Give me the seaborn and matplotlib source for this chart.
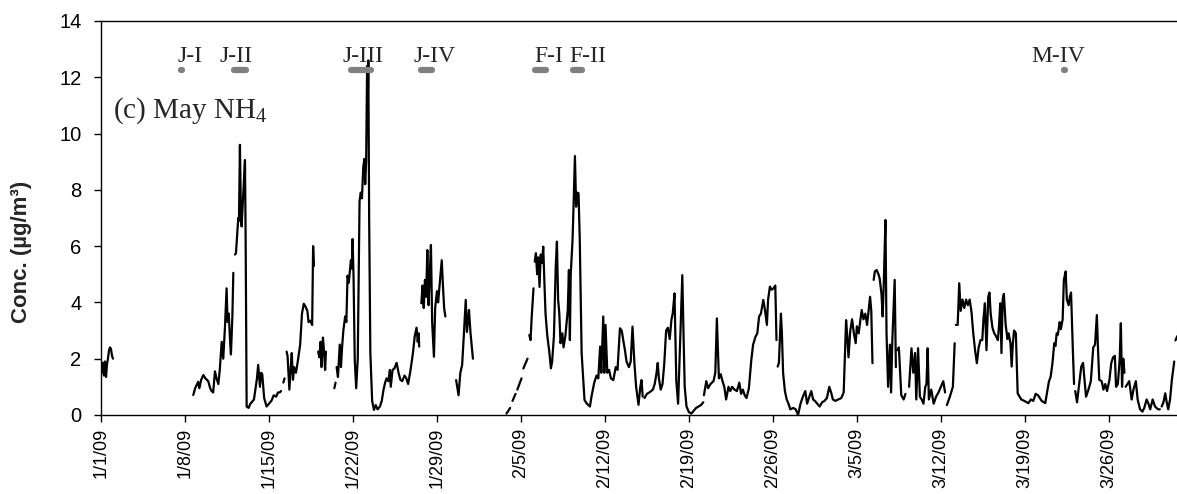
import numpy as np
import pandas as pd
import matplotlib
matplotlib.use("Agg")
import matplotlib.pyplot as plt
import seaborn as sns

nan = np.nan

# (day since 1/1/09, NH4 conc); nan rows = breaks in the record
jan = np.array([
    (0.0, 1.9), (0.08, 1.5), (0.15, 1.85), (0.25, 1.4), (0.33, 1.9), (0.42, 1.35), (0.5, 1.8),
    (0.58, 2.0), (0.67, 2.3), (0.75, 2.4), (0.83, 2.35), (0.92, 2.1), (1.0, 2.0), (1.1, nan),
    (7.69, 0.71), (7.85, 0.95), (8.1, 1.18), (8.2, 0.95), (8.35, 1.25), (8.53, 1.42), (8.7, 1.3),
    (8.94, 1.2), (9.1, 0.95), (9.22, 0.85), (9.35, 0.8), (9.5, 1.55), (9.6, 1.35), (9.78, 1.1),
    (9.9, 1.6), (10.06, 2.6), (10.19, 2.0), (10.33, 3.1), (10.47, 4.5), (10.55, 3.3), (10.65, 3.6),
    (10.75, 2.7), (10.83, 2.15), (10.95, 3.5), (11.03, 5.05), (11.1, nan),
    (11.17, 5.7), (11.25, 5.75), (11.35, 6.4), (11.44, 7.0), (11.5, 6.9), (11.58, 9.6), (11.65, 7.5),
    (11.72, 6.7), (11.85, 7.8), (12.0, 9.06), (12.06, 6.0), (12.14, 0.3), (12.3, 0.25), (12.45, 0.4),
    (12.56, 0.45), (12.75, 0.55), (12.9, 1.0), (13.0, 1.3), (13.1, 1.78), (13.25, 1.0), (13.35, 1.5),
    (13.44, 1.45), (13.6, 0.6), (13.8, 0.3), (14.0, 0.4), (14.2, 0.5), (14.4, 0.7), (14.6, 0.65),
    (14.75, 0.8), (14.9, 0.8), (15.0, 0.85), (15.1, nan),
    (15.2, 1.15), (15.3, 1.3), (15.4, nan),
    (15.47, 2.25), (15.55, 2.1), (15.7, 0.9), (15.8, 1.6), (15.9, 2.2), (16.0, 1.25), (16.1, 1.7),
    (16.25, 1.5), (16.4, 1.9), (16.6, 2.5), (16.75, 3.6), (16.9, 3.95), (17.05, 3.85), (17.2, 3.7),
    (17.3, 3.3), (17.45, 3.35), (17.6, 3.2), (17.68, 6.0), (17.75, 5.3), (17.9, nan),
    (18.1, 2.25), (18.2, 2.05), (18.3, 2.6), (18.38, 1.7), (18.5, 2.75), (18.6, 2.2), (18.68, 1.6),
    (18.75, 2.25), (19.0, nan),
    (19.45, 0.95), (19.55, 1.15), (19.6, nan),
    (19.64, 1.7), (19.75, 1.35), (19.9, 2.5), (20.0, 1.7), (20.1, 2.45), (20.2, 3.0), (20.35, 3.5),
    (20.45, 3.3), (20.55, 4.95), (20.65, 4.7), (20.83, 5.5), (20.9, 5.2), (20.97, 6.25), (21.05, 4.9),
    (21.15, 1.95), (21.27, 0.95), (21.4, 2.0), (21.55, 7.6), (21.65, 7.9), (21.75, 7.7), (21.86, 8.8),
    (21.95, 9.1), (22.02, 8.2), (22.1, 9.0), (22.18, 12.4), (22.22, 10.6), (22.28, 12.6), (22.35, 7.0),
    (22.45, 2.2), (22.6, 0.5), (22.75, 0.18), (22.9, 0.35), (23.05, 0.2), (23.25, 0.3), (23.4, 0.5),
    (23.55, 0.9), (23.67, 1.13), (23.8, 1.3), (23.95, 1.2), (24.08, 1.6), (24.15, 1.0), (24.3, 1.6),
    (24.45, 1.65), (24.64, 1.85), (24.8, 1.5), (24.95, 1.25), (25.1, 1.2), (25.3, 1.4), (25.45, 1.3),
    (25.6, 1.1), (25.8, 1.6), (26.0, 2.2), (26.15, 2.8), (26.3, 3.1), (26.4, 2.6), (26.48, 2.9),
    (26.52, 2.43), (26.6, nan),
    (26.7, 3.97), (26.8, 4.6), (26.9, 3.8), (27.0, 4.8), (27.1, 4.2), (27.2, 5.86), (27.3, 3.9),
    (27.4, 5.0), (27.5, 6.04), (27.6, 3.3), (27.75, 2.07), (27.85, 3.8), (28.0, 4.4), (28.1, 4.0),
    (28.2, 4.5), (28.4, 5.5), (28.5, 4.6), (28.6, 3.8), (28.7, 3.5), (29.0, nan),
    (29.6, 1.24), (29.8, 0.7), (29.95, 1.5), (30.1, 1.78), (30.25, 2.9), (30.4, 4.09), (30.5, 2.95),
    (30.67, 3.73), (30.8, 2.9), (31.0, 2.0), (31.2, nan),
])

feb = np.array([
    (33.8, 0.05), (34.1, 0.25), (34.2, nan),
    (34.3, 0.5), (34.55, 0.75), (34.62, nan),
    (34.7, 0.9), (35.05, 1.3), (35.12, nan),
    (35.2, 1.65), (35.55, 2.0), (35.62, nan),
    (35.7, 2.84), (35.8, 2.66), (35.9, 3.5), (36.05, 4.5), (36.1, nan),
    (36.15, 5.45), (36.25, 5.75), (36.35, 5.0), (36.45, 5.6), (36.55, 4.55), (36.65, 5.7),
    (36.75, 5.4), (36.86, 5.98), (36.95, 4.8), (37.05, 3.6), (37.2, 2.8), (37.35, 2.3), (37.5, 1.66),
    (37.6, 1.9), (37.75, 2.8), (37.9, 5.27), (38.0, 6.16), (38.1, 4.1), (38.2, 3.6), (38.3, 2.55),
    (38.45, 2.9), (38.55, 2.4), (38.7, 2.8), (38.9, 3.7), (39.0, 5.15), (39.08, 2.66), (39.15, 5.0),
    (39.3, 6.2), (39.4, 7.64), (39.5, 9.2), (39.6, 7.4), (39.7, 7.9), (39.8, 7.88), (39.9, 6.3),
    (40.06, 2.19), (40.3, 0.53), (40.5, 0.4), (40.75, 0.3), (40.9, 0.7), (41.1, 1.13), (41.3, 1.4),
    (41.45, 1.3), (41.6, 2.43), (41.7, 1.5), (41.86, 3.5), (41.95, 1.5), (42.05, 3.2), (42.2, 1.5),
    (42.35, 1.6), (42.5, 1.3), (42.7, 1.24), (42.9, 1.7), (43.05, 1.6), (43.25, 3.08), (43.4, 3.0),
    (43.55, 2.6), (43.67, 2.3), (43.8, 1.9), (44.0, 1.7), (44.15, 1.9), (44.3, 3.14), (44.45, 1.9),
    (44.6, 1.0), (44.8, 0.36), (44.95, 1.0), (45.05, 1.24), (45.15, 0.65), (45.2, nan),
    (45.3, 0.6), (45.5, 0.75), (45.7, 0.8), (45.85, 0.85), (46.0, 0.9), (46.15, 1.1), (46.3, 1.48),
    (46.4, 1.85), (46.5, 1.3), (46.65, 0.9), (46.8, 1.1), (46.95, 1.85), (47.1, 3.0), (47.25, 3.1),
    (47.4, 2.7), (47.55, 3.4), (47.65, 3.6), (47.8, 4.32), (47.95, 1.2), (48.1, 0.4), (48.3, 3.0),
    (48.45, 4.97), (48.55, 2.9), (48.65, 1.0), (48.8, 0.3), (49.0, 0.1), (49.2, 0.05), (49.4, 0.15),
    (49.6, 0.25), (49.8, 0.3), (50.0, 0.35), (50.2, 0.45), (50.22, nan),
    (50.25, 0.7), (50.45, 1.2), (50.6, 0.95), (50.8, 1.1), (51.05, 1.2), (51.2, 1.5), (51.33, 3.43),
    (51.5, 1.3), (51.65, 1.45), (51.8, 1.2), (51.95, 1.0), (52.1, 0.55), (52.3, 1.0), (52.45, 0.85),
    (52.6, 1.0), (52.8, 0.9), (53.0, 0.85), (53.2, 1.15), (53.35, 0.75), (53.5, 0.9), (53.65, 0.7),
    (53.8, 0.6), (54.0, 0.95), (54.2, 1.95), (54.35, 2.5), (54.55, 2.78), (54.7, 2.9), (54.85, 3.5),
    (55.0, 3.6), (55.2, 4.09), (55.35, 3.7), (55.5, 3.2), (55.6, 4.1), (55.75, 4.56), (55.9, 4.45),
    (56.05, 4.5), (56.2, 4.6), (56.3, 2.66), (56.35, nan),
    (56.4, 1.72), (56.5, 1.85), (56.67, 3.6), (56.75, 2.9), (56.85, 1.5), (57.0, 0.85), (57.15, 0.55),
    (57.3, 0.4), (57.45, 0.2), (57.7, 0.25), (57.9, 0.2), (58.1, 0.0), (58.3, 0.4), (58.5, 0.65),
    (58.7, 0.85), (58.85, 0.4),
])

mar = np.array([
    (59.0, 0.6), (59.2, 0.85), (59.35, 0.55), (59.5, 0.5), (59.7, 0.4), (59.9, 0.3), (60.1, 0.45),
    (60.3, 0.5), (60.5, 0.6), (60.7, 1.0), (60.85, 0.8), (61.0, 0.55), (61.2, 0.5), (61.45, 0.55),
    (61.7, 0.6), (61.9, 0.8), (62.1, 3.37), (62.2, 2.8), (62.3, 2.05), (62.45, 3.0), (62.6, 3.4),
    (62.75, 2.9), (62.9, 2.55), (63.0, 3.15), (63.15, 2.9), (63.4, 3.73), (63.55, 3.4), (63.7, 3.6),
    (63.85, 3.2), (64.1, 4.2), (64.2, 3.7), (64.3, 1.84), (64.35, nan),
    (64.4, 4.8), (64.5, 5.1), (64.65, 5.15), (64.8, 5.0), (64.9, 4.85), (65.05, 4.3), (65.15, 3.5),
    (65.25, 4.8), (65.38, 6.93), (65.47, 2.9), (65.6, 1.0), (65.75, 2.5), (65.85, 0.8), (65.95, 2.6),
    (66.15, 4.8), (66.25, 1.7), (66.3, nan),
    (66.35, 2.3), (66.5, 2.4), (66.7, 0.7), (66.9, 0.55), (67.05, 0.75), (67.2, nan),
    (67.35, 1.0), (67.55, 2.37), (67.7, 1.5), (67.85, 2.2), (67.95, 0.55), (68.1, 2.37), (68.25, 0.65),
    (68.4, 0.55), (68.55, 0.4), (68.7, 1.0), (68.8, 1.1), (68.9, 2.37), (69.0, 0.55), (69.2, 0.9),
    (69.4, 0.4), (69.6, 0.65), (69.8, 0.8), (70.0, 1.0), (70.2, 1.2), (70.35, 0.8), (70.42, nan),
    (70.5, 0.35), (70.75, 0.65), (71.0, 1.0), (71.15, 2.55), (71.2, nan),
    (71.25, 3.2), (71.4, 3.2), (71.53, 4.68), (71.65, 3.7), (71.8, 4.1), (71.95, 3.8), (72.1, 4.1),
    (72.25, 3.9), (72.4, 4.1), (72.55, 3.67), (72.7, 2.9), (72.85, 2.3), (73.0, 1.84), (73.15, 2.4),
    (73.3, 2.66), (73.45, 2.66), (73.55, 3.4), (73.67, 3.97), (73.8, 2.3), (73.95, 4.2), (74.05, 4.35),
    (74.15, 3.6), (74.3, 3.1), (74.45, 2.9), (74.6, 2.8), (74.75, 2.66), (74.85, 3.2), (74.95, 3.97),
    (75.05, 2.2), (75.15, 4.1), (75.25, 4.3), (75.4, 3.2), (75.55, 2.7), (75.65, 2.9), (75.8, 2.55),
    (75.9, 1.72), (76.0, 2.55), (76.1, 3.0), (76.25, 2.9), (76.4, 0.77), (76.7, 0.55), (76.95, 0.5),
    (77.3, 0.42), (77.5, 0.55), (77.7, 0.5), (77.9, 0.75), (78.1, 0.7), (78.4, 0.5), (78.7, 0.42),
    (79.0, 1.18), (79.15, 1.36), (79.3, 1.84), (79.45, 2.55), (79.55, 2.45), (79.65, 2.9),
    (79.75, 2.85), (79.9, 3.3), (80.0, 3.05), (80.15, 3.4), (80.25, 4.8), (80.4, 5.1), (80.5, 4.1),
    (80.65, 3.9), (80.75, 4.2), (80.85, 4.35), (81.0, 2.3), (81.1, 1.1), (81.15, nan),
    (81.2, 0.85), (81.35, 0.45), (81.5, 1.0), (81.7, 1.72), (81.85, 1.85), (81.95, 1.35), (82.1, 0.65),
    (82.3, 0.9), (82.5, 1.2), (82.7, 2.4), (82.85, 2.5), (83.0, 3.55), (83.1, 2.3), (83.2, 1.25),
    (83.4, 1.2), (83.55, 0.9), (83.7, 1.1), (83.85, 0.85), (84.05, 1.25), (84.2, 1.84), (84.35, 2.05),
    (84.5, 2.1), (84.6, 1.0), (84.75, 1.1), (84.9, 1.95), (85.0, 3.26), (85.1, 1.0), (85.2, 2.0),
    (85.3, 1.5), (85.35, nan),
    (85.4, 1.0), (85.55, 1.1), (85.7, 1.2), (85.9, 0.55), (86.05, 0.9), (86.25, 1.2), (86.4, 0.55),
    (86.6, 0.2), (86.8, 0.12), (86.95, 0.25), (87.15, 0.55), (87.3, 0.4), (87.45, 0.2), (87.65, 0.55),
    (87.85, 0.3), (88.1, 0.2), (88.25, 0.2), (88.32, nan),
    (88.4, 0.3), (88.55, 0.45), (88.7, 0.77), (88.8, 0.5), (88.95, 0.2), (89.1, 0.55), (89.25, 1.24),
    (89.45, 1.9), (89.5, nan),
    (89.55, 2.65), (89.7, 2.8),
])

# episodes marked above the series
event_names = ["J-I", "J-II", "J-III", "J-IV", "F-I", "F-II", "M-IV"]
event_start = [6.68, 11.1, 20.8, 26.7, 36.2, 39.3, 80.25]
event_end = [6.76, 12.1, 22.5, 27.6, 37.1, 40.1, 80.33]
event_label_day = [7.42, 11.25, 21.83, 27.83, 37.33, 40.58, 79.75]

tick_days = [0, 7, 14, 21, 28, 35, 42, 49, 56, 63, 70, 77, 84]
tick_labels = ["1/1/09", "1/8/09", "1/15/09", "1/22/09", "1/29/09", "2/5/09", "2/12/09",
               "2/19/09", "2/26/09", "3/5/09", "3/12/09", "3/19/09", "3/26/09"]

rec = np.vstack([jan, feb, mar])
df = pd.DataFrame(rec, columns=["day", "conc"])
df["seg"] = np.cumsum(df["conc"].isna())
df = df.dropna()

sns.set_style("ticks")
plt.rcParams["font.family"] = ["Liberation Sans", "DejaVu Sans"]
plt.rcParams["mathtext.fontset"] = "custom"
plt.rcParams["mathtext.rm"] = "Liberation Serif"
plt.rcParams["mathtext.it"] = "Liberation Serif:italic"

fig = plt.figure(figsize=(11.77, 4.94), dpi=100)
ax = fig.add_axes([0.0858, 0.16, 0.9142, 0.7975])

sns.lineplot(data=df, x="day", y="conc", units="seg", estimator=None, sort=False,
             color="black", lw=1.6, ax=ax)

for name, s, e, lx in zip(event_names, event_start, event_end, event_label_day):
    ax.plot([s, e], [12.25, 12.25], color="#808080", lw=4.5, solid_capstyle="round")
    ax.text(lx, 12.55, name, ha="center", va="baseline", fontsize=17,
            family=["Liberation Serif", "DejaVu Serif"])

ax.text(1.0, 10.55, "(c) May NH$_4$", fontsize=21, va="baseline",
        family=["Liberation Serif", "DejaVu Serif"])

ax.set_xlim(0, 89.68)
ax.set_ylim(0, 14)
ax.set_yticks(range(0, 15, 2))
ax.set_xticks(tick_days)
ax.set_xticklabels(tick_labels, rotation=90)
ax.tick_params(axis="y", direction="out", length=5, width=1, labelsize=14.5, pad=9, colors="black")
ax.tick_params(axis="x", direction="out", length=5, width=1, labelsize=13, pad=4, colors="black")
ax.set_xlabel("")
ax.set_ylabel("Conc. (µg/m³)", fontsize=16, fontweight="bold")
ax.yaxis.set_label_coords(-0.064, 0.414)

for side in ["left", "bottom", "top"]:
    ax.spines[side].set_color("black")
    ax.spines[side].set_linewidth(1)
ax.spines["right"].set_visible(False)

fig.savefig("out.png", dpi=100)
